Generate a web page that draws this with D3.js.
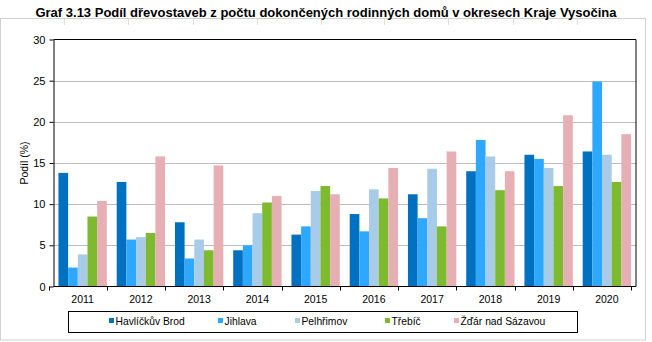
<!DOCTYPE html>
<html><head><meta charset="utf-8">
<script src="https://cdnjs.cloudflare.com/ajax/libs/d3/7.8.5/d3.min.js"></script>
<style>body{margin:0;background:#fff}svg{display:block;font-family:"Liberation Sans",Arial,sans-serif}</style>
</head><body><svg id="c" width="652" height="342"></svg>
<script>
const years = ["2011","2012","2013","2014","2015","2016","2017","2018","2019","2020"];
const seriesNames = ["Havlíčkův Brod","Jihlava","Pelhřimov","Třebíč","Žďár nad Sázavou"];
const havlickuvBrod = [13.8,12.7,7.8,4.4,6.3,8.8,11.2,14.0,16.0,16.4];
const jihlava       = [2.3,5.7,3.4,5.0,7.3,6.7,8.3,17.8,15.5,24.9];
const pelhrimov     = [3.9,6.0,5.7,8.9,11.6,11.8,14.3,15.8,14.4,16.0];
const trebic        = [8.5,6.5,4.4,10.2,12.2,10.7,7.3,11.7,12.2,12.7];
const zdar          = [10.4,15.8,14.7,11.0,11.2,14.4,16.4,14.0,20.8,18.5];
const yTicks = [0,5,10,15,20,25,30];
const colors = ["#0070c0","#2ea8ff","#a8cce8","#7dba2f","#e6afb3"];
const seriesValues = [havlickuvBrod,jihlava,pelhrimov,trebic,zdar];

const svg = d3.select("#c");
const L=53.5, R=636, T=39.5, B=286.5;

// outer frame (light gray)
svg.append("rect").attr("x",0.5).attr("y",18.5).attr("width",645).attr("height",321.5)
  .attr("fill","none").attr("stroke","#d0d0d0");
// faint cell gridline stubs
[64,128,193,257,321,384,448,513,577].forEach(x=>{
  svg.append("line").attr("x1",x+0.5).attr("x2",x+0.5).attr("y1",19).attr("y2",25).attr("stroke","#e0e0e0");
});

svg.append("text").attr("x",326).attr("y",17).attr("text-anchor","middle")
  .attr("font-size",13).attr("font-weight","bold").attr("fill","#000")
  .text("Graf 3.13 Podíl dřevostaveb z počtu dokončených rodinných domů v okresech Kraje Vysočina");

const x = d3.scaleBand().domain(years).range([L,R]).paddingInner(0.17).paddingOuter(0.085);
const xs = d3.scaleBand().domain(d3.range(5)).range([0,x.bandwidth()]);
const y = d3.scaleLinear().domain([0,30]).range([B,T]);

// gridlines
svg.append("g").selectAll("line").data(yTicks.filter(d=>d>0&&d<30)).join("line")
  .attr("x1",L).attr("x2",R).attr("y1",d=>Math.round(y(d))+0.5).attr("y2",d=>Math.round(y(d))+0.5)
  .attr("stroke","#bdbdbd");

// bars
seriesValues.forEach((vals,si)=>{
  svg.append("g").selectAll("rect").data(years).join("rect")
    .attr("x",(d)=>x(d)+xs(si)).attr("width",xs.bandwidth())
    .attr("y",(d,i)=>y(vals[i])).attr("height",(d,i)=>B-y(vals[i]))
    .attr("fill",colors[si]);
});

// plot frame top & right
svg.append("line").attr("x1",L).attr("x2",R).attr("y1",T).attr("y2",T).attr("stroke","#000");
svg.append("line").attr("x1",R).attr("x2",R).attr("y1",T).attr("y2",B).attr("stroke","#000");

// y axis
const ya = svg.append("g").attr("transform",`translate(${L},0)`)
  .call(d3.axisLeft(y).tickValues(yTicks).tickSize(4).tickPadding(4).tickSizeOuter(0));
ya.selectAll("text").attr("font-size",11).attr("fill","#000").attr("font-family","Liberation Sans, Arial, sans-serif");
ya.selectAll("line,path").attr("stroke","#000");

// x axis
const xa = svg.append("g").attr("transform",`translate(0,${B})`);
xa.append("line").attr("x1",L).attr("x2",R).attr("y1",0).attr("y2",0).attr("stroke","#000");
const step = x.step();
const bounds = d3.range(years.length+1).map(i=>x(years[0]) - x.paddingOuter()*step - x.paddingInner()*step/2 + i*step);
xa.selectAll("line.t").data(bounds).join("line").attr("class","t")
  .attr("x1",d=>Math.round(d)+0.5).attr("x2",d=>Math.round(d)+0.5).attr("y1",0).attr("y2",4).attr("stroke","#000");
xa.selectAll("text").data(years).join("text")
  .attr("x",d=>x(d)+x.bandwidth()/2).attr("y",16).attr("text-anchor","middle")
  .attr("font-size",10.5).attr("fill","#000").text(d=>d);

// y label
svg.append("text").attr("transform","translate(28,163) rotate(-90)").attr("text-anchor","middle")
  .attr("font-size",10.5).attr("fill","#000").text("Podíl (%)");

// legend
svg.append("rect").attr("x",68.5).attr("y",311.5).attr("width",509).attr("height",21)
  .attr("fill","#fff").attr("stroke","#000");
const legX = [109,218,295,385,454];
const lg = svg.append("g").selectAll("g").data(seriesNames).join("g")
  .attr("transform",(d,i)=>`translate(${legX[i]},0)`);
lg.append("rect").attr("x",0).attr("y",318).attr("width",5).attr("height",5).attr("fill",(d,i)=>colors[i]);
lg.append("text").attr("x",6.5).attr("y",325).attr("font-size",10.3).attr("fill","#000").text(d=>d);
</script></body></html>
